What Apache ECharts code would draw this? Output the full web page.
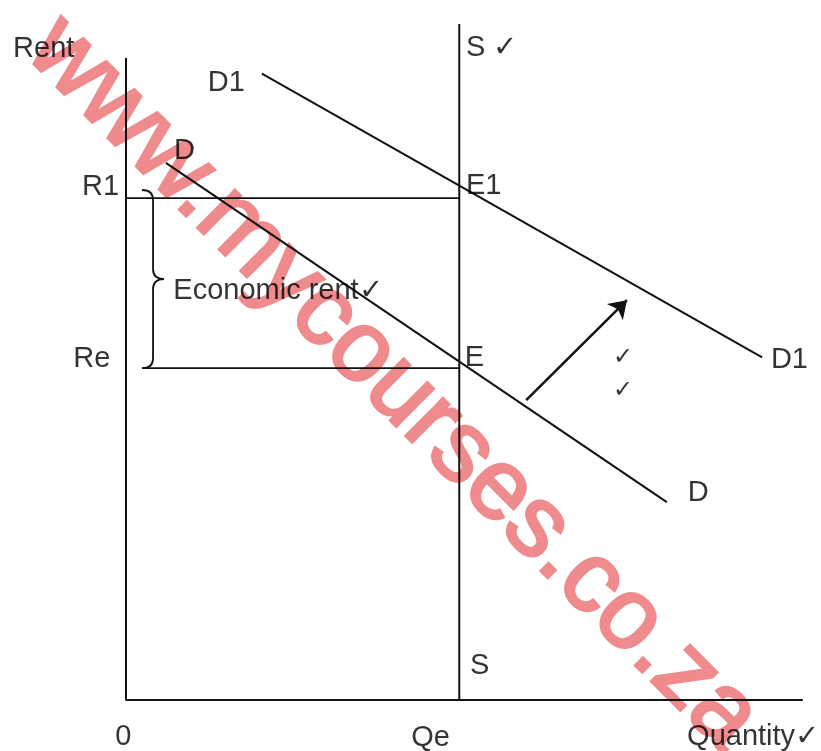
<!DOCTYPE html>
<html>
<head>
<meta charset="utf-8">
<script src="https://cdn.jsdelivr.net/npm/echarts@6/dist/echarts.min.js"></script>
<style>
html,body{margin:0;padding:0;background:#fff;}
#main{width:821px;height:751px;}
</style>
</head>
<body>
<div id="main"></div>
<script>
// ---- data (quantity 0..100, rent 0..100) ----
const quantityQe = 49.3;
const rentR1 = 73.8;
const rentRe = 48.8;
const rentAxisTop = 94.4;
const supplyX = [49.3, 49.3];
const supplyY = [0, 99.4];
const demandX = [5.9, 80.0];
const demandY = [79.0, 29.1];
const demand1X = [20.1, 94.1];
const demand1Y = [92.1, 50.4];
const shiftFrom = [59.2, 44.1];
const shiftTo = [74.1, 58.8];
const braceSpan = [75.0, 48.8];
const reLineStart = 2.4;

// label texts and their anchor points (data units)
const labelTexts = ['Rent', 'D1', 'D', 'R1', 'Re', 'S ✓', 'E1', 'Economic rent✓', 'E', 'D1', 'D', 'S', '0', 'Qe', 'Quantity✓', '✓', '✓'];
const labelX = [-16.7, 12.1, 7.1, -6.5, -7.8, 50.3, 50.3, 7.0, 50.1, 95.4, 83.1, 50.9, -1.6, 42.2, 83.0, 72.0, 72.0];
const labelY = [95.7, 90.7, 80.7, 75.4, 50.1, 95.9, 75.6, 60.1, 50.3, 50.0, 30.4, 5.0, -5.4, -5.6, -5.4, 50.4, 45.6];

const INK = '#000';
const FONT = '"Liberation Sans", Arial, sans-serif';
const MARK = '#EF8A8D';

function seg(xs, ys) { return xs.map((x, i) => [x, ys[i]]); }
function lineSeries(points, width) {
  return {
    type: 'line', data: points, symbol: 'none', silent: true, clip: false,
    lineStyle: { color: '#111', width: width || 2 }, z: 3
  };
}

const chart = echarts.init(document.getElementById('main'));
const labelData = labelTexts.map((t, i) => {
  const small = t === '✓';
  return {
    value: [labelX[i], labelY[i]], name: t,
    label: small ? { fontSize: 24 } : undefined
  };
});

chart.setOption({
  animation: false,
  backgroundColor: '#fff',
  grid: { left: 126, right: 19, top: 20, bottom: 51 },
  xAxis: {
    type: 'value', min: 0, max: 100, z: 3,
    axisLine: { show: true, onZero: false, lineStyle: { color: '#111', width: 2 } },
    axisTick: { show: false }, axisLabel: { show: false }, splitLine: { show: false }
  },
  yAxis: {
    type: 'value', min: 0, max: 100,
    axisLine: { show: false }, axisTick: { show: false }, axisLabel: { show: false }, splitLine: { show: false }
  },
  series: [
    lineSeries([[0, 0], [0, rentAxisTop]], 2),
    lineSeries(seg(supplyX, supplyY), 2),
    lineSeries([[0, rentR1], [quantityQe, rentR1]], 1.8),
    lineSeries([[reLineStart, rentRe], [quantityQe, rentRe]], 1.8),
    lineSeries(seg(demandX, demandY), 2),
    lineSeries(seg(demand1X, demand1Y), 2),
    {
      type: 'lines', coordinateSystem: 'cartesian2d', silent: true, z: 3,
      data: [{ coords: [shiftFrom, shiftTo] }],
      symbol: ['none', 'arrow'], symbolSize: [13, 17],
      lineStyle: { color: '#111', width: 2.5, opacity: 1 }
    },
    {
      type: 'custom', coordinateSystem: 'cartesian2d', silent: true, z: 3, clip: false,
      data: [[4.0, braceSpan[0], braceSpan[1]]],
      renderItem: function (params, api) {
        const top = api.coord([api.value(0), api.value(1)]);
        const bot = api.coord([api.value(0), api.value(2)]);
        const x = top[0], t = top[1], b = bot[1], m = (t + b) / 2;
        const hx = x - 11, cx = x + 11;
        const d = `M${hx},${t} Q${x},${t} ${x},${t + 10} L${x},${m - 10} Q${x},${m} ${cx},${m} ` +
                  `Q${x},${m} ${x},${m + 10} L${x},${b - 10} Q${x},${b} ${hx},${b}`;
        return { type: 'path', shape: { pathData: d }, style: { stroke: '#111', fill: null, lineWidth: 1.8 } };
      }
    },
    {
      type: 'scatter', clip: false, silent: true, symbolSize: 0, z: 5,
      data: labelData,
      label: {
        show: true, formatter: '{b}', position: 'inside', align: 'left', verticalAlign: 'middle',
        color: INK, fontSize: 29, fontFamily: FONT, textBorderWidth: 0, textBorderColor: 'transparent'
      }
    }
  ],
  graphic: {
    elements: [{
      type: 'text', x: 393, y: 384, rotation: -Math.PI / 4, z: 1, silent: true,
      style: {
        text: 'www.mycourses.co.za', fontSize: 100, fontFamily: FONT,
        fill: MARK, stroke: MARK, lineWidth: 3, align: 'center', verticalAlign: 'middle'
      }
    }]
  }
});
</script>
</body>
</html>
